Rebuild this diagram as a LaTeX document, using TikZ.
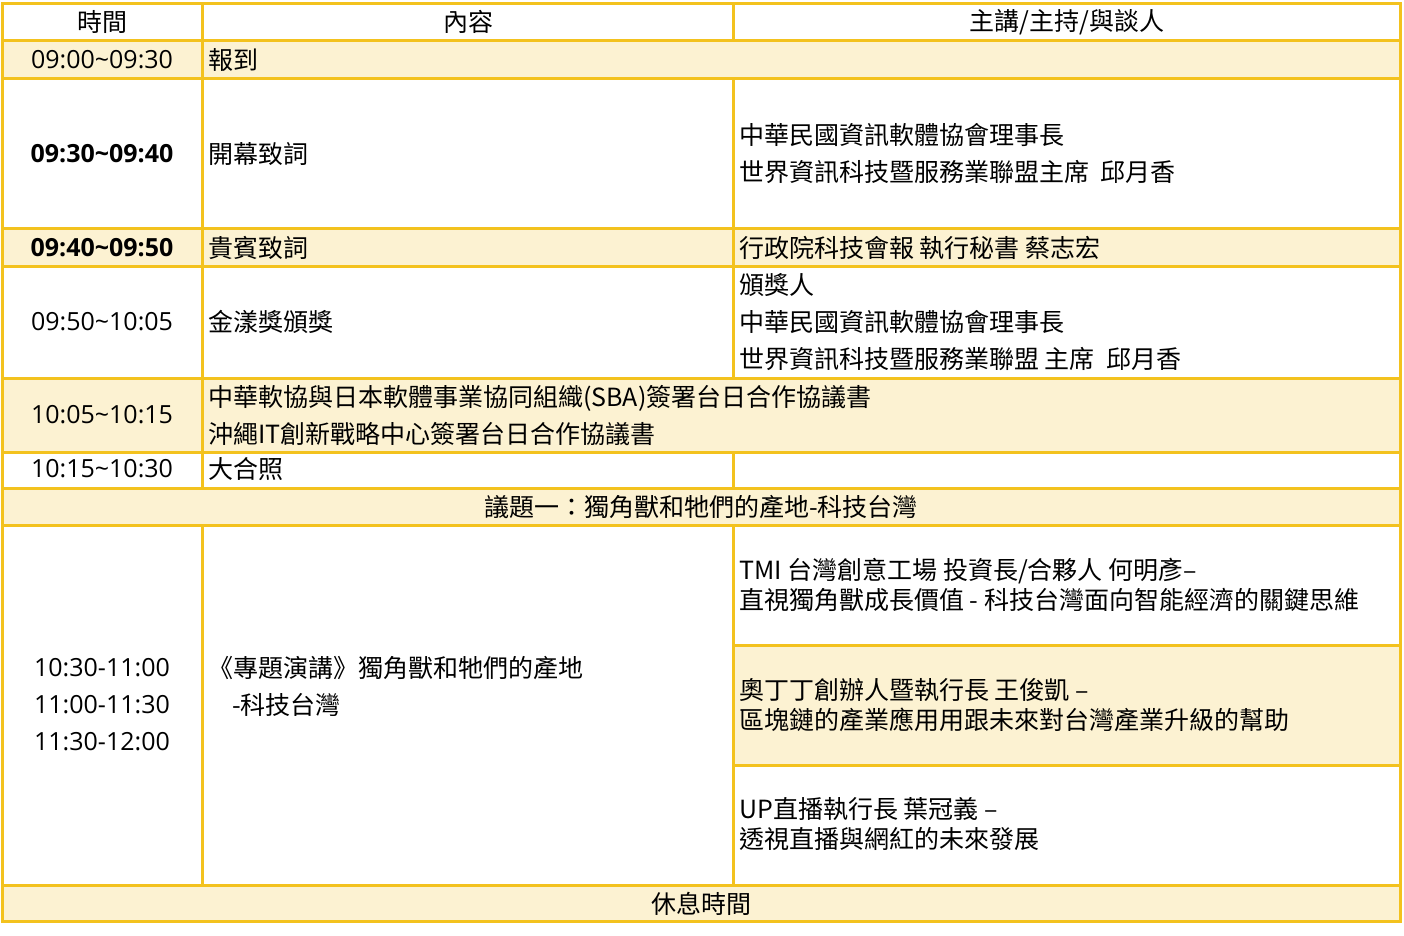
\documentclass[tikz,border=0pt]{standalone}
\usepackage{fontspec}
\setmainfont{Noto Sans CJK TC}
\newfontfamily\latinfont{Open Sans}
\usetikzlibrary{positioning}
\definecolor{linegold}{HTML}{F3C21E}
\definecolor{bandcream}{HTML}{FCF2D2}
\newcommand{\cellfont}{\fontsize{25}{37}\selectfont}
\newcommand{\talkfont}{\fontsize{25}{30}\selectfont}

\begin{document}
\begin{tikzpicture}[x=1pt,y=-1pt,
gridline/.style={draw=linegold, line width=3pt, line cap=rect},
headtext/.style={anchor=center, inner sep=0pt, font=\cellfont},
timetext/.style={anchor=center, inner sep=0pt, font=\cellfont\latinfont},
celltext/.style={anchor=west, inner sep=0pt, align=left, font=\cellfont},
talktext/.style={anchor=west, inner sep=0pt, align=left, font=\talkfont},
]
\useasboundingbox (0,0) rectangle (1404,935);

%Bands
\fill[bandcream] (2,40) rectangle (1400,78);
\fill[bandcream] (2,228) rectangle (1400,266);
\fill[bandcream] (2,378) rectangle (1400,452);
\fill[bandcream] (2,488) rectangle (1400,525);
\fill[bandcream] (733,645) rectangle (1400,765);
\fill[bandcream] (2,885) rectangle (1400,921);

%Lines
\foreach \y in {3,40,78,228,266,378,452,488,525,885,921}
  \draw[gridline] (2,\y) -- (1400,\y);
\foreach \y in {645,765}
  \draw[gridline] (733,\y) -- (1400,\y);
\draw[gridline] (2,3) -- (2,921);
\draw[gridline] (1400,3) -- (1400,921);
\draw[gridline] (202,3) -- (202,488);
\draw[gridline] (202,525) -- (202,885);
\draw[gridline] (733,3) -- (733,40);
\draw[gridline] (733,78) -- (733,378);
\draw[gridline] (733,452) -- (733,488);
\draw[gridline] (733,525) -- (733,885);

%Header
\node[headtext] (hdtime)  at (102,22)  {時間};
\node[headtext] (hdtopic) at (468,22)  {內容};
\node[headtext] (hdhost)  at (1067,22) {主講/主持/與談人};

%Rows
\node[timetext] (tcheckin) at (102,60) {09:00\textasciitilde09:30};
\node[celltext] (checkin)  at (208,60) {報到};

\node[timetext] (topen) at (102,154) {\bfseries 09:30\textasciitilde09:40};
\node[celltext] (open)  at (208,154) {開幕致詞};
\node[celltext] (openby) at (739,154) {中華民國資訊軟體協會理事長\\世界資訊科技暨服務業聯盟主席~~邱月香};

\node[timetext] (tguest) at (102,248) {\bfseries 09:40\textasciitilde09:50};
\node[celltext] (guest)  at (208,248) {貴賓致詞};
\node[celltext] (guestby) at (739,248) {行政院科技會報 執行秘書 蔡志宏};

\node[timetext] (taward) at (102,322) {09:50\textasciitilde10:05};
\node[celltext] (award)  at (208,322) {金漾獎頒獎};
\node[celltext] (awardby) at (739,322) {頒獎人\\中華民國資訊軟體協會理事長\\世界資訊科技暨服務業聯盟 主席~~邱月香};

\node[timetext] (tsign) at (102,415) {10:05\textasciitilde10:15};
\node[celltext] (sign)  at (208,416) {中華軟協與日本軟體事業協同組織(SBA)簽署台日合作協議書\\沖繩IT創新戰略中心簽署台日合作協議書};

\node[timetext] (tphoto) at (102,469) {10:15\textasciitilde10:30};
\node[celltext] (photo)  at (208,469) {大合照};

\node[headtext] (topic) at (701,507) {議題一：獨角獸和牠們的產地-科技台灣};

\node[timetext, align=center] (ttalks) at (102,705) {10:30-11:00\\11:00-11:30\\11:30-12:00};
\node[celltext] (keynote) at (208,686) {《專題演講》獨角獸和牠們的產地\\\hspace*{24pt}-科技台灣};

\node[talktext] (talka) at (739,585) {TMI 台灣創意工場 投資長/合夥人 何明彥–\\直視獨角獸成長價值 - 科技台灣面向智能經濟的關鍵思維};
\node[talktext] (talkb) at (739,705) {奧丁丁創辦人暨執行長 王俊凱 –\\區塊鏈的產業應用用跟未來對台灣產業升級的幫助};
\node[talktext] (talkc) at (739,824) {UP直播執行長 葉冠義 –\\透視直播與網紅的未來發展};

\node[headtext] (break) at (701,904) {休息時間};

\end{tikzpicture}
\end{document}
